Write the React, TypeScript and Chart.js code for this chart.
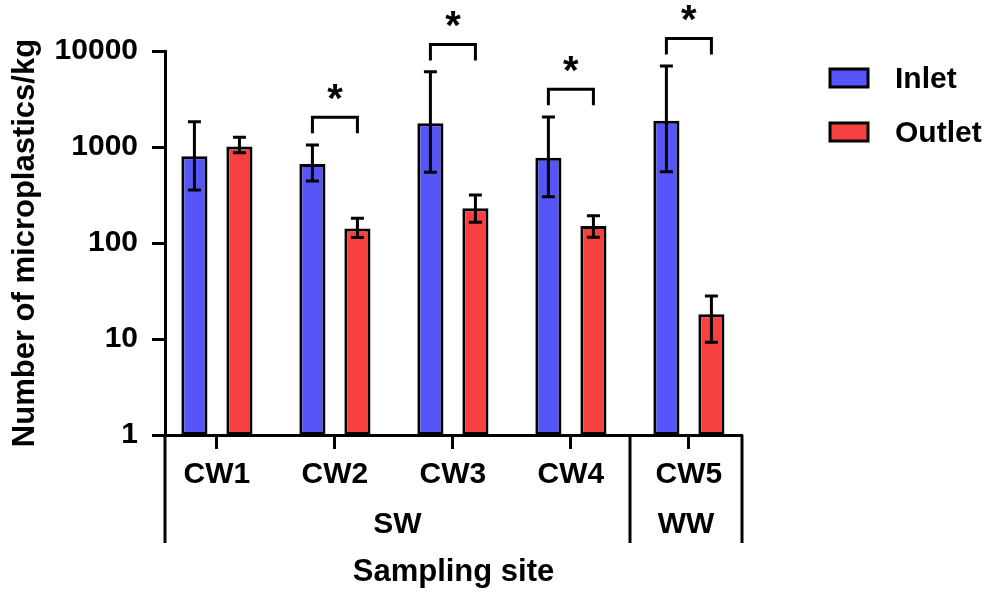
import React, { useEffect, useRef } from "react";
import { Chart, registerables } from "chart.js";

Chart.register(...registerables);

const categories = ["CW1", "CW2", "CW3", "CW4", "CW5"];
const seriesNames = ["Inlet", "Outlet"];
const inletValues = [800, 665, 1770, 775, 1880];
const inletLow = [356, 443, 545, 303, 553];
const inletHigh = [1830, 1050, 6090, 2050, 6980];
const outletValues = [1010, 142, 230, 150, 18.1];
const outletLow = [872, 114, 164, 115, 9.25];
const outletHigh = [1260, 181, 316, 192, 28];
const bracketTop = [null, 2040, 11700, 3990, 13500];
const sigMarks = ["", "*", "*", "*", "*"];
const yTickValues = [1, 10, 100, 1000, 10000];
const groupLabels = ["SW", "WW"];
const groupStart = [0, 4];
const groupEnd = [3, 4];

const FONT = "'Liberation Sans', Arial, sans-serif";
const BLUE = "#5656F8";
const RED = "#F74141";

const overlayPlugin = {
  id: "overlay",
  afterDatasetsDraw(chart: any) {
    const ctx = chart.ctx;
    const y = chart.scales.y;
    const lows = [inletLow, outletLow];
    const highs = [inletHigh, outletHigh];
    ctx.save();
    ctx.strokeStyle = "#000";
    ctx.lineWidth = 3;
    ctx.lineCap = "butt";
    for (let d = 0; d < 2; d++) {
      const meta = chart.getDatasetMeta(d);
      meta.data.forEach((bar: any, i: number) => {
        const x = bar.x;
        const yl = y.getPixelForValue(lows[d][i]);
        const yh = y.getPixelForValue(highs[d][i]);
        const cap = 6.5;
        ctx.beginPath();
        ctx.moveTo(x, yl);
        ctx.lineTo(x, yh);
        ctx.moveTo(x - cap, yh);
        ctx.lineTo(x + cap, yh);
        ctx.moveTo(x - cap, yl);
        ctx.lineTo(x + cap, yl);
        ctx.stroke();
      });
    }
    ctx.restore();
  },
  afterDraw(chart: any) {
    const ctx = chart.ctx;
    const xs = chart.scales.x;
    const ys = chart.scales.y;
    const m0 = chart.getDatasetMeta(0);
    const m1 = chart.getDatasetMeta(1);
    ctx.save();
    ctx.strokeStyle = "#000";
    ctx.fillStyle = "#000";
    ctx.lineWidth = 3;
    // significance brackets
    bracketTop.forEach((v, i) => {
      if (v == null) return;
      const x1 = m0.data[i].x;
      const x2 = m1.data[i].x;
      const yt = ys.getPixelForValue(v);
      ctx.beginPath();
      ctx.moveTo(x1, yt + 16);
      ctx.lineTo(x1, yt);
      ctx.lineTo(x2, yt);
      ctx.lineTo(x2, yt + 16);
      ctx.stroke();
      ctx.font = `bold 40px ${FONT}`;
      ctx.textAlign = "center";
      ctx.textBaseline = "alphabetic";
      ctx.fillText(sigMarks[i], (x1 + x2) / 2, yt - 5);
    });
    // group brackets under the axis
    const bottomY = chart.chartArea.bottom;
    const lineEnd = bottomY + 108;
    const edges: number[] = [];
    groupLabels.forEach((g, k) => {
      const left = k === 0 ? xs.getPixelForValue(xs.min) : xs.getPixelForValue((groupEnd[k - 1] + groupStart[k]) / 2);
      const right = k === groupLabels.length - 1 ? xs.getPixelForValue(xs.max) : xs.getPixelForValue((groupEnd[k] + groupStart[k + 1]) / 2);
      edges.push(left, right);
      ctx.font = `bold 30px ${FONT}`;
      ctx.textAlign = "center";
      ctx.textBaseline = "alphabetic";
      ctx.fillText(g, (left + right) / 2, bottomY + 98);
    });
    Array.from(new Set(edges.map((e) => Math.round(e)))).forEach((ex) => {
      ctx.beginPath();
      ctx.moveTo(ex, bottomY);
      ctx.lineTo(ex, lineEnd);
      ctx.stroke();
    });
    // legend
    chart.data.datasets.forEach((ds: any, i: number) => {
      const bx = 830;
      const by = 69 + i * 54;
      ctx.fillStyle = ds.backgroundColor;
      ctx.fillRect(bx, by, 38, 18);
      ctx.strokeStyle = "#000";
      ctx.lineWidth = 3;
      ctx.strokeRect(bx, by, 38, 18);
      ctx.fillStyle = "#000";
      ctx.font = `bold 30px ${FONT}`;
      ctx.textAlign = "left";
      ctx.textBaseline = "alphabetic";
      ctx.fillText(ds.label, 895, 88 + i * 54);
    });
    ctx.restore();
  },
};

export default function App() {
  const canvasRef = useRef<HTMLCanvasElement | null>(null);
  useEffect(() => {
    document.body.style.margin = "0";
    const canvas = canvasRef.current;
    if (!canvas) return;
    const chart = new Chart(canvas, {
      type: "bar",
      data: {
        datasets: [
          {
            label: seriesNames[0],
            data: inletValues.map((v, i) => ({ x: i, y: v })),
            backgroundColor: BLUE,
            borderColor: "#000",
            borderWidth: 3,
            borderSkipped: false,
          },
          {
            label: seriesNames[1],
            data: outletValues.map((v, i) => ({ x: i, y: v })),
            backgroundColor: RED,
            borderColor: "#000",
            borderWidth: 3,
            borderSkipped: false,
          },
        ],
      },
      options: {
        animation: false,
        responsive: true,
        maintainAspectRatio: false,
        categoryPercentage: 0.763,
        barPercentage: 0.58,
        layout: { padding: { left: 0, top: 51, right: 248, bottom: 0 } },
        plugins: { legend: { display: false }, tooltip: { enabled: false } },
        scales: {
          x: {
            type: "linear",
            offset: false,
            min: -0.44,
            max: 4.45,
            afterBuildTicks: (scale: any) => {
              scale.ticks = categories.map((_, i) => ({ value: i }));
            },
            afterFit: (scale: any) => {
              scale.height = 166;
            },
            grid: {
              display: true,
              offset: false,
              drawOnChartArea: false,
              drawTicks: true,
              tickLength: 14,
              tickWidth: 3,
              tickColor: "#000",
            },
            border: { display: true, width: 3, color: "#000" },
            ticks: {
              autoSkip: false,
              maxRotation: 0,
              color: "#000",
              padding: 8,
              font: { family: FONT, size: 30, weight: "bold" },
              callback: (value: any) => categories[value] ?? "",
            },
            title: {
              display: true,
              text: "Sampling site",
              color: "#000",
              font: { family: FONT, size: 31, weight: "bold" },
              padding: { top: 0, bottom: 10 },
            },
          },
          y: {
            type: "logarithmic",
            min: 1,
            max: 10000,
            afterBuildTicks: (scale: any) => {
              scale.ticks = yTickValues.map((v) => ({ value: v }));
            },
            afterFit: (scale: any) => {
              scale.width = 165;
            },
            grid: {
              display: true,
              drawOnChartArea: false,
              drawTicks: true,
              tickLength: 13,
              tickWidth: 3,
              tickColor: "#000",
            },
            border: { display: true, width: 3, color: "#000" },
            ticks: {
              color: "#000",
              padding: 14,
              font: { family: FONT, size: 30, weight: "bold" },
              callback: (value: any) => String(value),
            },
            title: {
              display: true,
              text: "Number of microplastics/kg",
              color: "#000",
              font: { family: FONT, size: 31, weight: "bold" },
              padding: { top: 7, bottom: 0 },
            },
          },
        },
      },
      plugins: [overlayPlugin],
    });
    return () => chart.destroy();
  }, []);
  return (
    <div style={{ position: "relative", width: "990px", height: "601px" }}>
      <canvas ref={canvasRef} />
    </div>
  );
}
